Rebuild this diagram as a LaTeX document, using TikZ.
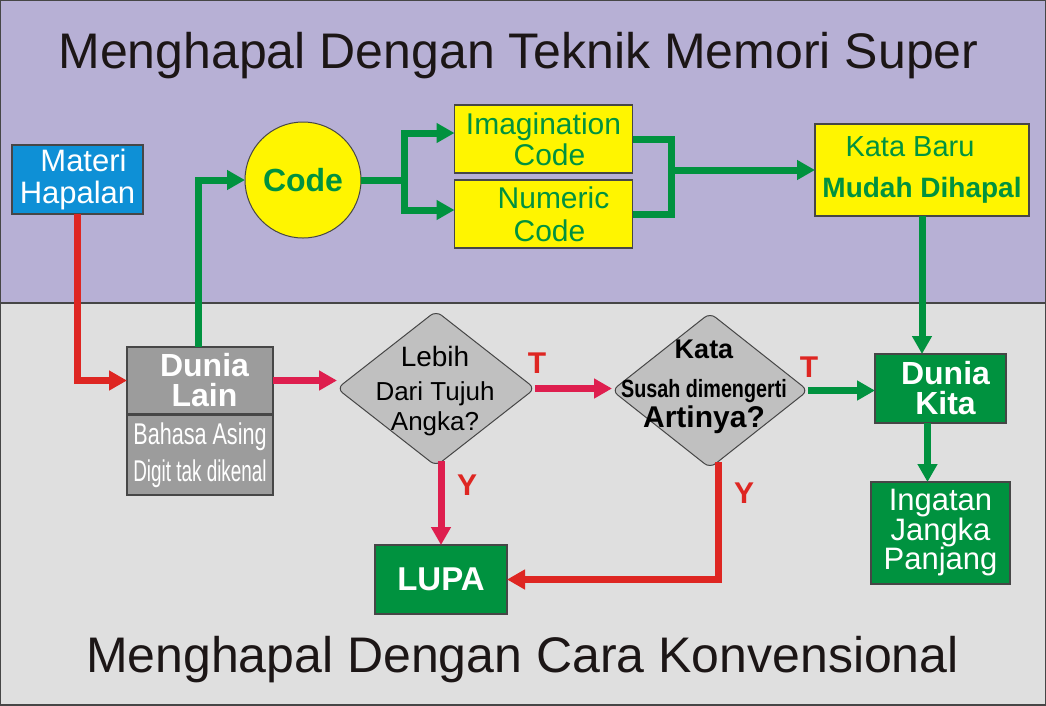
\documentclass[tikz,border=0pt]{standalone}
\usepackage{fontspec}
\usepackage{graphicx}
\setmainfont{Liberation Sans}
\usetikzlibrary{arrows.meta,shapes.geometric}
\definecolor{purp}{RGB}{183,176,213}
\definecolor{lgray}{RGB}{223,223,223}
\definecolor{gr}{RGB}{0,146,63}
\definecolor{yel}{RGB}{255,245,0}
\definecolor{blu}{RGB}{14,144,214}
\definecolor{rd}{RGB}{222,38,34}
\definecolor{crim}{RGB}{222,30,78}
\definecolor{dgray}{RGB}{156,156,156}
\definecolor{dmd}{RGB}{192,192,192}
\definecolor{edge}{RGB}{70,70,70}
\definecolor{ttl}{RGB}{28,22,22}
\begin{document}
\begin{tikzpicture}[x=1pt,y=-1pt,
  every node/.style={inner sep=0pt, outer sep=0pt},
  bx/.style={draw=edge, line width=1.2pt, align=center},
  gline/.style={draw=gr, line width=7pt},
  garrow/.style={gline, -{Triangle[length=18pt,width=19pt]}},
  rarrow/.style={draw=rd, line width=7pt, -{Triangle[length=18pt,width=19pt]}},
  carrow/.style={draw=crim, line width=7pt, -{Triangle[length=18pt,width=19pt]}},
  lbl/.style={text=rd, font=\bfseries\fontsize{30}{30}\selectfont},
  dmnd/.style={diamond, draw=edge, line width=1pt, fill=dmd, rounded corners=7pt},
  ttlstyle/.style={text=ttl, font=\fontsize{50}{50}\selectfont, anchor=base},
]
\useasboundingbox (0,0) rectangle (1046,705);
% background
\fill[purp] (0,0) rectangle (1046,303);
\fill[lgray] (0,303) rectangle (1046,705);
\draw[edge, line width=1.5pt] (0,303) -- (1046,303);
\draw[edge, line width=2.5pt] (0,0) rectangle (1046,705);

% titles
\node[ttlstyle] (title1) at (518.5,68) {Menghapal Dengan Teknik Memori Super};
\node[ttlstyle] (title2) at (522.5,672) {Menghapal Dengan Cara Konvensional};

% top nodes
\node[bx, fill=blu, text=white, minimum width=131pt, minimum height=69pt,
      font=\fontsize{31}{32}\selectfont] (mat) at (77.5,179.5) {\hspace*{12pt}Materi\\Hapalan};
\node[circle, draw=edge, line width=1pt, fill=yel, minimum size=116pt, text=gr,
      font=\bfseries\fontsize{32}{32}\selectfont] (code) at (303,180) {Code};
\node[bx, fill=yel, text=gr, minimum width=178pt, minimum height=68pt,
      font=\fontsize{30}{31}\selectfont] (img) at (543.5,139) {Imagination\\\hspace*{12pt}Code};
\node[bx, fill=yel, text=gr, minimum width=178pt, minimum height=68pt,
      font=\fontsize{30}{33}\selectfont] (num) at (543.5,214) {\hspace*{20pt}Numeric\\\hspace*{12pt}Code};
\node[bx, fill=yel, text=gr, minimum width=214pt, minimum height=92pt,
      font=\fontsize{29}{41}\selectfont] (kb) at (922,170)
      {Kata Baru\hspace*{24pt}\\{\bfseries\fontsize{28}{41}\selectfont Mudah Dihapal}};

% bottom nodes
\node[bx, fill=dgray, text=white, minimum width=146pt, minimum height=67pt,
      font=\bfseries\fontsize{32}{30}\selectfont] (dl) at (200,380.5)
      {\hspace*{9pt}Dunia\\\hspace*{9pt}Lain};
\node[bx, fill=dgray, text=white, minimum width=146pt, minimum height=80pt,
      font=\fontsize{30}{37}\selectfont] (dls) at (200,455)
      {\scalebox{0.72}[1]{Bahasa Asing}\\\scalebox{0.63}[1]{Digit tak dikenal}};
\node[dmnd, minimum width=198pt, minimum height=155pt] (d1) at (436,388.5) {};
\node[dmnd, minimum width=196pt, minimum height=155pt] (d2) at (710,390.5) {};
\node[bx, fill=gr, text=white, minimum width=131pt, minimum height=69pt,
      font=\bfseries\fontsize{32}{30}\selectfont] (dk) at (940.5,388.5)
      {\hspace*{10pt}Dunia\\\hspace*{10pt}Kita};
\node[bx, fill=gr, text=white, minimum width=139pt, minimum height=102pt,
      font=\fontsize{31}{29.5}\selectfont] (ing) at (940.5,533) {Ingatan\\Jangka\\Panjang};
\node[bx, fill=gr, text=white, minimum width=132pt, minimum height=69pt,
      font=\bfseries\fontsize{33}{33}\selectfont] (lupa) at (441,579.5) {LUPA};

% diamond texts
\node[font=\fontsize{28}{28}\selectfont, anchor=base] (d1a) at (435,366) {Lebih};
\node[font=\fontsize{26}{26}\selectfont, anchor=base] (d1b) at (435,400) {Dari Tujuh};
\node[font=\fontsize{26}{26}\selectfont, anchor=base] (d1c) at (435,430) {Angka?};
\node[font=\bfseries\fontsize{27}{27}\selectfont, anchor=base] (d2a) at (704,358) {Kata};
\node[font=\bfseries\fontsize{25}{25}\selectfont, anchor=base] (d2b) at (704,397) {\scalebox{0.79}[1]{Susah dimengerti}};
\node[font=\bfseries\fontsize{30}{30}\selectfont, anchor=base] (d2c) at (704,427) {Artinya?};

% connectors
\draw[rarrow] (mat.south) |- (dl.west);
\draw[garrow] ([xshift=-2pt]dl.north) |- (code.west);
\coordinate (sp) at (404,180);
\draw[gline] (code.east) -- (sp);
\draw[garrow] (sp) |- ([yshift=6pt]img.west);
\draw[garrow] (sp) |- ([yshift=4pt]num.west);
\coordinate (jn) at (671,170);
\draw[gline] (img.east) -| (jn) |- (num.east);
\draw[garrow] (jn) -- (kb.west);
\draw[garrow] (kb.south) -- (kb.south |- dk.north);
\draw[carrow] (dl.east) -- (dl.east -| d1.west);
\draw[carrow] (d1.east) -- (d1.east -| d2.west);
\draw[garrow] (d2.east) -- (d2.east -| dk.west);
\coordinate (d1out) at ([yshift=5pt]d1.south);
\draw[carrow] (d1out -| lupa.north) -- (lupa.north);
\coordinate (d2out) at ([xshift=8pt,yshift=6pt]d2.south);
\draw[rarrow] (d2out) |- (lupa.east);
\draw[garrow] ([xshift=-13pt]dk.south) -- ([xshift=-13pt]ing.north);

% labels
\node[lbl] (lt1) at (537,363) {T};
\node[lbl] (lt2) at (809,367) {T};
\node[lbl] (ly1) at (467,485) {Y};
\node[lbl] (ly2) at (744,493) {Y};
\end{tikzpicture}
\end{document}
